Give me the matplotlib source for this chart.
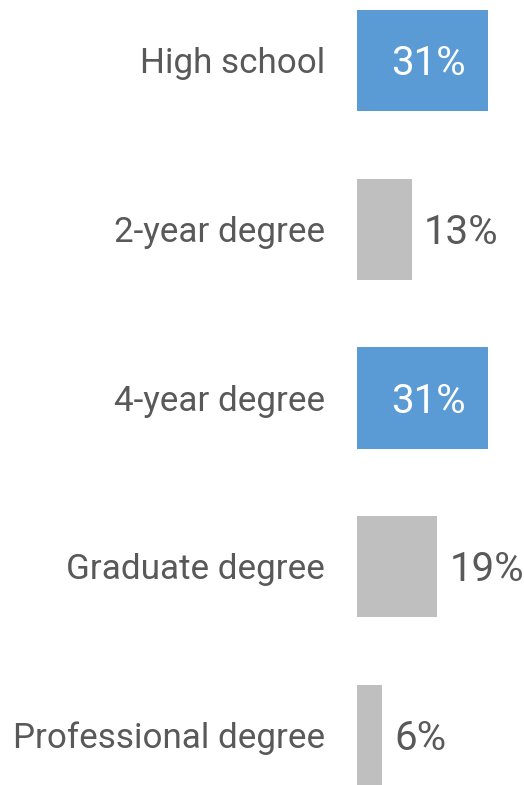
import matplotlib
matplotlib.use("Agg")
import matplotlib.pyplot as plt

categories = ["High school", "2-year degree", "4-year degree", "Graduate degree", "Professional degree"]
values = [31, 13, 31, 19, 6]
highlight = [True, False, True, False, False]

W, H = 524, 785
fig = plt.figure(figsize=(W / 100, H / 100), dpi=100)
ax = fig.add_axes([357 / W, 0, 1 - 357 / W, 1])

blue = "#5B9BD5"
gray = "#BFBFBF"
text_col = "#595959"
font = "Roboto"

ypos = list(range(len(categories)))
colors = [blue if h else gray for h in highlight]
ax.barh(ypos, values, height=0.6, color=colors, align="center")

ax.set_xlim(0, 167 / 4.23)
ax.set_ylim(4.293, -0.3585)
ax.axis("off")

for y, v, h, c in zip(ypos, values, highlight, categories):
    ax.annotate(c, xy=(0, y), xytext=(-32, -3), textcoords="offset pixels",
                ha="right", va="center", fontsize=25.2, color=text_col, family=font)
    if h:
        ax.annotate(f"{v}%", xy=(v, y), xytext=(-22, -3), textcoords="offset pixels",
                    ha="right", va="center", fontsize=29, color="white", family=font)
    else:
        ax.annotate(f"{v}%", xy=(v, y), xytext=(12, -3), textcoords="offset pixels",
                    ha="left", va="center", fontsize=29, color=text_col, family=font)

fig.savefig("out.png", dpi=100)
